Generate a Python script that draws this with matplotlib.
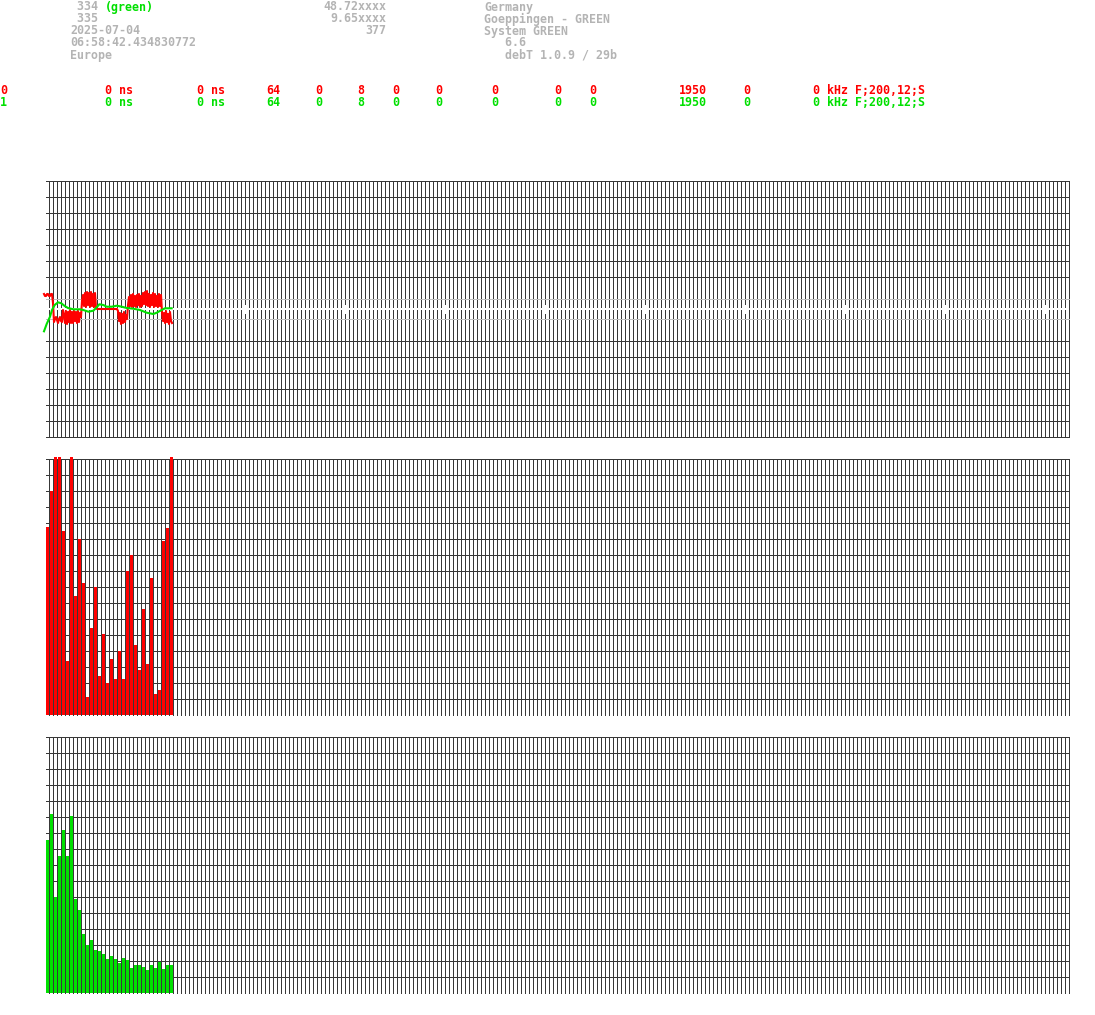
import numpy as np
import matplotlib
matplotlib.use('Agg')
import matplotlib.pyplot as plt

W, H = 1095, 1015

############## datos del encabezado #########
hdr_left = [' 334', ' 335', '2025-07-04', '06:58:42.434830772', 'Europe']
hdr_tag = '(green)'
hdr_mid = ['48.72xxxx', '9.65xxxx', '377']
hdr_right = ['Germany', 'Goeppingen - GREEN', 'System GREEN', '   6.6', '   debT 1.0.9 / 29b']

chan_names = ['0', '1']
chan_fields = ['0 ns', '0 ns', '64', '0', '8', '0', '0', '0', '0', '0', '1950', '0',
               '0 kHz F;200,12;S']
field_px = [105, 197, 266, 315, 357, 392, 435, 491, 554, 589, 679, 743, 813]

############## trazas (panel superior) #########
# traza roja, una muestra por pixel (4 muestras por bin)
red_trace = [15, 13, 13, 15, 15, 13, 13, 15, 15, 6,
             -13, -10, -8, -11, -14, -10, -8, -12, -13, -1,
             -6, -14, -2, -15, -3, -13, -1, -14, -3, -14,
             -2, -12, -3, -14, -2, -13, -4, -8, 8, 14,
             3, 16, 2, 17, 4, 16, 2, 17, 3, 15,
             2, 16, 1, 0, 0, 0, 0, 0, 0, 0,
             0, 0, 0, 0, 0, 0, 0, 0, 0, 0,
             0, 0, 0, 0, -2, -12, -4, -15, -5, -14,
             -3, -13, -6, -10, 4, 12, 3, 14, 2, 15,
             3, 13, 2, 14, 4, 15, 2, 13, 3, 16,
             5, 17, 4, 18, 3, 15, 2, 14, 4, 16,
             2, 15, 3, 13, 2, 15, 3, 14, -3, -12,
             -4, -14, -2, -13, -5, -15, -3, -12, -14]
green_x = [-0.25, 0.42, 1.25, 1.75, 2.42, 3.25, 4.08, 4.92, 5.75, 7.08, 8.75, 9.58,
           10.83, 12.08, 12.92, 13.58, 14.58, 15.42, 16.67, 17.92, 19.17, 20.42,
           22.08, 23.75, 25.42, 27.08, 27.92, 29.17, 30.0, 31.67]
green_trace = [-22.3, -15, -7.7, -1, 4, 6.7, 5.7, 3, 1, -0.3, -0.3, -1,
               -2.7, -1.7, 1.7, 4.7, 4, 2.3, 2.3, 3.3, 2.3, 1,
               0.3, -1, -3.7, -5, -3.7, -1, 0.7, 0.7]

############## histogramas #########
red_hist = [188, 224, 258, 258, 184, 54, 258, 119, 176, 132, 18, 87, 128, 39, 81, 32,
            56, 36, 64, 36, 144, 160, 70, 45, 106, 51, 137, 21, 25, 174, 187, 258]
green_hist = [153, 179, 96, 137, 163, 137, 177, 94, 83, 59, 48, 53, 43, 42, 39, 34,
              37, 34, 30, 35, 33, 25, 28, 28, 26, 23, 28, 25, 31, 24, 28, 28]

GRID = '#383838'
GRAY = '#b4b4b4'
RED = '#ff0000'
GREEN = '#00e000'
PX = 0.72  # 1 pixel en puntos

fig = plt.figure(figsize=(W / 100, H / 100), dpi=100)


def px_axes(left, top, right, bottom):
    ax = fig.add_axes([left / W, 1 - bottom / H, (right - left) / W, (bottom - top) / H])
    ax.set_xlim(-1, 257)
    ax.set_axis_off()
    return ax


cols = np.arange(1, 257)

############## panel superior #########
ax = px_axes(41, 179, 1073, 439)
ax.set_ylim(-130, 130)
levels = np.arange(-128, 129, 16)
levels = levels[np.abs(levels) > 16]
ax.hlines(levels, 0.25, 256, colors=GRID, lw=PX, antialiased=False, zorder=1)
ax.vlines(cols, -128, 128, colors=GRID, lw=PX, antialiased=False, zorder=1)
ax.hlines([10, -10], 0.25, 256, colors='#c0c0c0', lw=PX, antialiased=False, zorder=2)
ax.hlines([0], 0.25, 256, colors='white', lw=2 * PX, antialiased=False, zorder=2)
ax.vlines(np.arange(50, 256, 25), -4, 4, colors='white', lw=3 * PX, antialiased=False, zorder=2)
rx = np.arange(len(red_trace)) * 0.25 - 0.25
ax.plot(rx, red_trace, color=RED, lw=1.5, zorder=3)
ax.plot(green_x, green_trace, color=GREEN, lw=1.5, zorder=4)

############## histogramas #########
for top, bot, vals, col in [(455, 717, red_hist, RED), (733, 995, green_hist, GREEN)]:
    ax = px_axes(41, top, 1073, bot)
    ax.set_ylim(-2, 260)
    ax.hlines(np.arange(16, 257, 16), 0.25, 256, colors=GRID, lw=PX, antialiased=False, zorder=1)
    idx = np.arange(len(vals))
    ax.bar(idx + 1, vals, width=-0.75, align='edge', color=col, linewidth=0, zorder=2)
    ax.vlines(cols, 0, 256, colors=GRID, lw=PX, antialiased=False, zorder=3)

############## textos #########
font = dict(family='DejaVu Sans Mono', size=8.4, va='center', weight='bold')


def put(x, y, s, **kw):
    fig.text(x / W, 1 - y / H, s, **font, **kw)


for k, s in enumerate(hdr_left):
    put(70, 7 + 12 * k, s, color=GRAY)
put(105, 7, hdr_tag, color=GREEN)
for k, s in enumerate(hdr_mid):
    put(386, 7 + 12 * k, s, color=GRAY, ha='right')
for k, s in enumerate(hdr_right):
    put(484, 7 + 12 * k, s, color=GRAY)

for k, (name, col) in enumerate(zip(chan_names, [RED, GREEN])):
    y = 91 + 12 * k
    put(0, y, name, color=col)
    for xp, s in zip(field_px, chan_fields):
        put(xp, y, s, color=col)

fig.savefig('out.png', dpi=100, facecolor='white')
